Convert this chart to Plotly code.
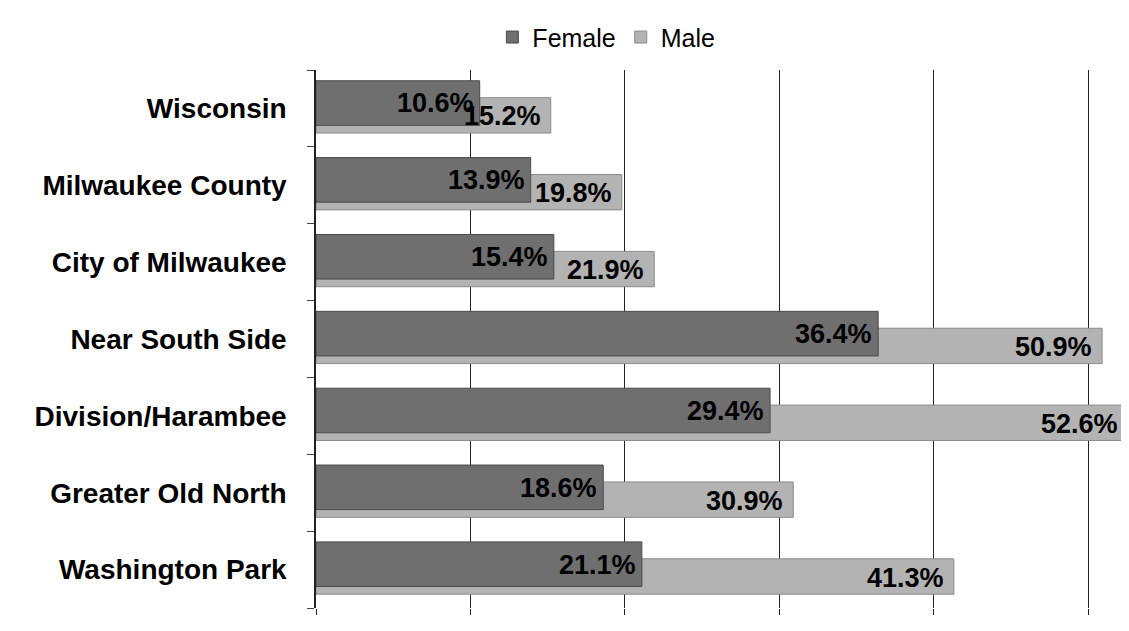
import plotly.graph_objects as go

areas = ["Wisconsin", "Milwaukee County", "City of Milwaukee", "Near South Side",
         "Division/Harambee", "Greater Old North", "Washington Park"]
female = [10.6, 13.9, 15.4, 36.4, 29.4, 18.6, 21.1]
male = [15.2, 19.8, 21.9, 50.9, 52.6, 30.9, 41.3]

label_font = dict(family="Arial, Liberation Sans, sans-serif", size=27, color="black")

fig = go.Figure()
# male drawn first so the female bar sits on top of it
fig.add_trace(go.Bar(
    y=areas, x=male, name="Male", orientation="h",
    marker=dict(color="#b3b3b3", line=dict(color="#8a8a8a", width=1)),
    offset=-0.14, width=0.46,
))
fig.add_trace(go.Bar(
    y=areas, x=female, name="Female", orientation="h",
    marker=dict(color="#6f6f6f", line=dict(color="#4a4a4a", width=1)),
    offset=-0.36, width=0.58,
))

# value labels at the inner end of each bar
for a, f, m in zip(areas, female, male):
    fig.add_annotation(x=f, y=a, text=f"<b>{f:.1f}%</b>", showarrow=False,
                       xanchor="right", xshift=-4, yshift=5, font=label_font)
    fig.add_annotation(x=m, y=a, text=f"<b>{m:.1f}%</b>", showarrow=False,
                       xanchor="right", xshift=-8, yshift=-8, font=label_font)

fig.update_layout(
    barmode="overlay",
    width=1129, height=631,
    paper_bgcolor="white", plot_bgcolor="white",
    margin=dict(l=308, r=4, t=62, b=31, autoexpand=False),
    font=dict(family="Arial, Liberation Sans, sans-serif", color="black"),
    legend=dict(orientation="h", x=0.53, xref="container", xanchor="center",
                y=0.99, yref="container", yanchor="top",
                traceorder="reversed", font=dict(size=25), itemwidth=30),
    showlegend=True,
)
fig.update_xaxes(range=[0, 52.9], dtick=10, showgrid=True, gridcolor="#222222",
                 gridwidth=1.2, showticklabels=False, zeroline=False,
                 ticks="outside", ticklen=6, tickcolor="#222222")
fig.update_yaxes(autorange="reversed", showline=True, linecolor="#222222", linewidth=1.5,
                 ticks="outside", ticklen=7, tickson="boundaries",
                 tickfont=dict(size=28, family="Arial, Liberation Sans, sans-serif"),
                 ticklabelstandoff=22)
fig.update_yaxes(ticktext=[f"<b>{a}</b>" for a in areas], tickvals=areas)

fig.write_html("out.html")
